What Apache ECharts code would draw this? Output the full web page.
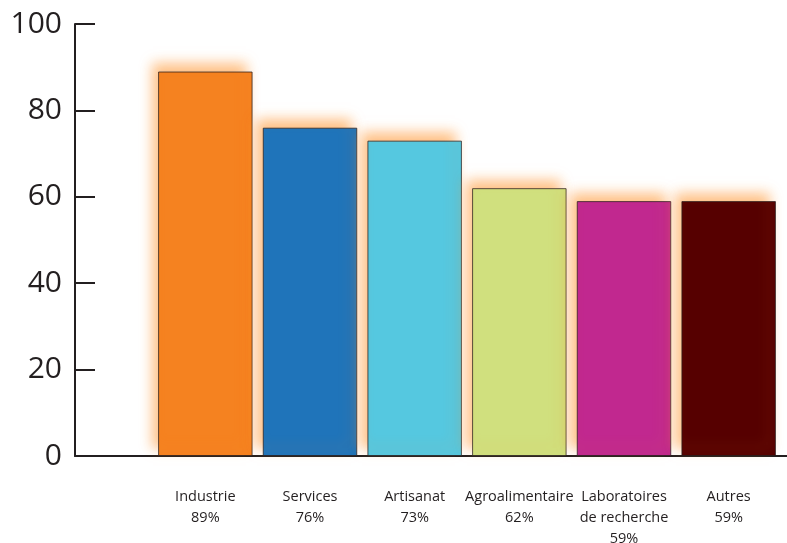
<!DOCTYPE html>
<html>
<head>
<meta charset="utf-8">
<script src="https://cdn.jsdelivr.net/npm/echarts@6/dist/echarts.min.js"></script>
<style>html,body{margin:0;padding:0;background:#fff;}#c{width:787px;height:543px;}</style>
</head>
<body>
<div id="c"></div>
<script>
var categories = ['Industrie\n89%', 'Services\n76%', 'Artisanat\n73%', 'Agroalimentaire\n62%', 'Laboratoires\nde recherche\n59%', 'Autres\n59%'];
var values = [89, 76, 73, 62, 59, 59];
var barColors = ['#F58220', '#1F74BA', '#55C8E0', '#D0E07E', '#C1288F', '#560000'];
var yTicks = [0, 20, 40, 60, 80, 100];

var chart = echarts.init(document.getElementById('c'), null, {renderer: 'canvas'});
var textColor = '#231f20';
chart.setOption({
  animation: false,
  backgroundColor: '#ffffff',
  grid: [
    {left: 153, right: 6, top: 24, bottom: 87, containLabel: false, outerBoundsMode: 'none'},
    {left: 75, right: 0, top: 24, bottom: 87, containLabel: false, outerBoundsMode: 'none'}
  ],
  xAxis: [
    {
      type: 'category', gridIndex: 0, data: categories,
      axisLine: {show: false}, axisTick: {show: false},
      axisLabel: {interval: 0, fontFamily: 'Open Sans', fontSize: 14.5, lineHeight: 21, color: textColor, margin: 30}
    },
    {
      type: 'value', gridIndex: 1, min: 0, max: 1,
      axisLine: {show: true, lineStyle: {color: textColor, width: 2}},
      axisTick: {show: false}, axisLabel: {show: false}, splitLine: {show: false}
    }
  ],
  yAxis: [
    {type: 'value', gridIndex: 0, min: yTicks[0], max: yTicks[yTicks.length - 1], show: false},
    {
      type: 'value', gridIndex: 1, min: yTicks[0], max: yTicks[yTicks.length - 1], interval: yTicks[1] - yTicks[0],
      axisLine: {show: true, lineStyle: {color: textColor, width: 2}},
      axisTick: {show: true, inside: true, length: 20, lineStyle: {color: textColor, width: 2}},
      axisLabel: {fontFamily: 'Open Sans', fontSize: 30, color: textColor, margin: 13},
      splitLine: {show: false}
    }
  ],
  series: [{
    type: 'bar', xAxisIndex: 0, yAxisIndex: 0,
    barWidth: 94.5,
    data: values.map(function (v, i) {
      return {value: v, itemStyle: {color: barColors[i]}};
    }),
    itemStyle: {
      borderColor: 'rgba(40,30,30,0.75)', borderWidth: 1,
      shadowColor: 'rgba(255,150,50,0.6)', shadowBlur: 12, shadowOffsetX: -6, shadowOffsetY: -8
    }
  }]
});
</script>
</body>
</html>
